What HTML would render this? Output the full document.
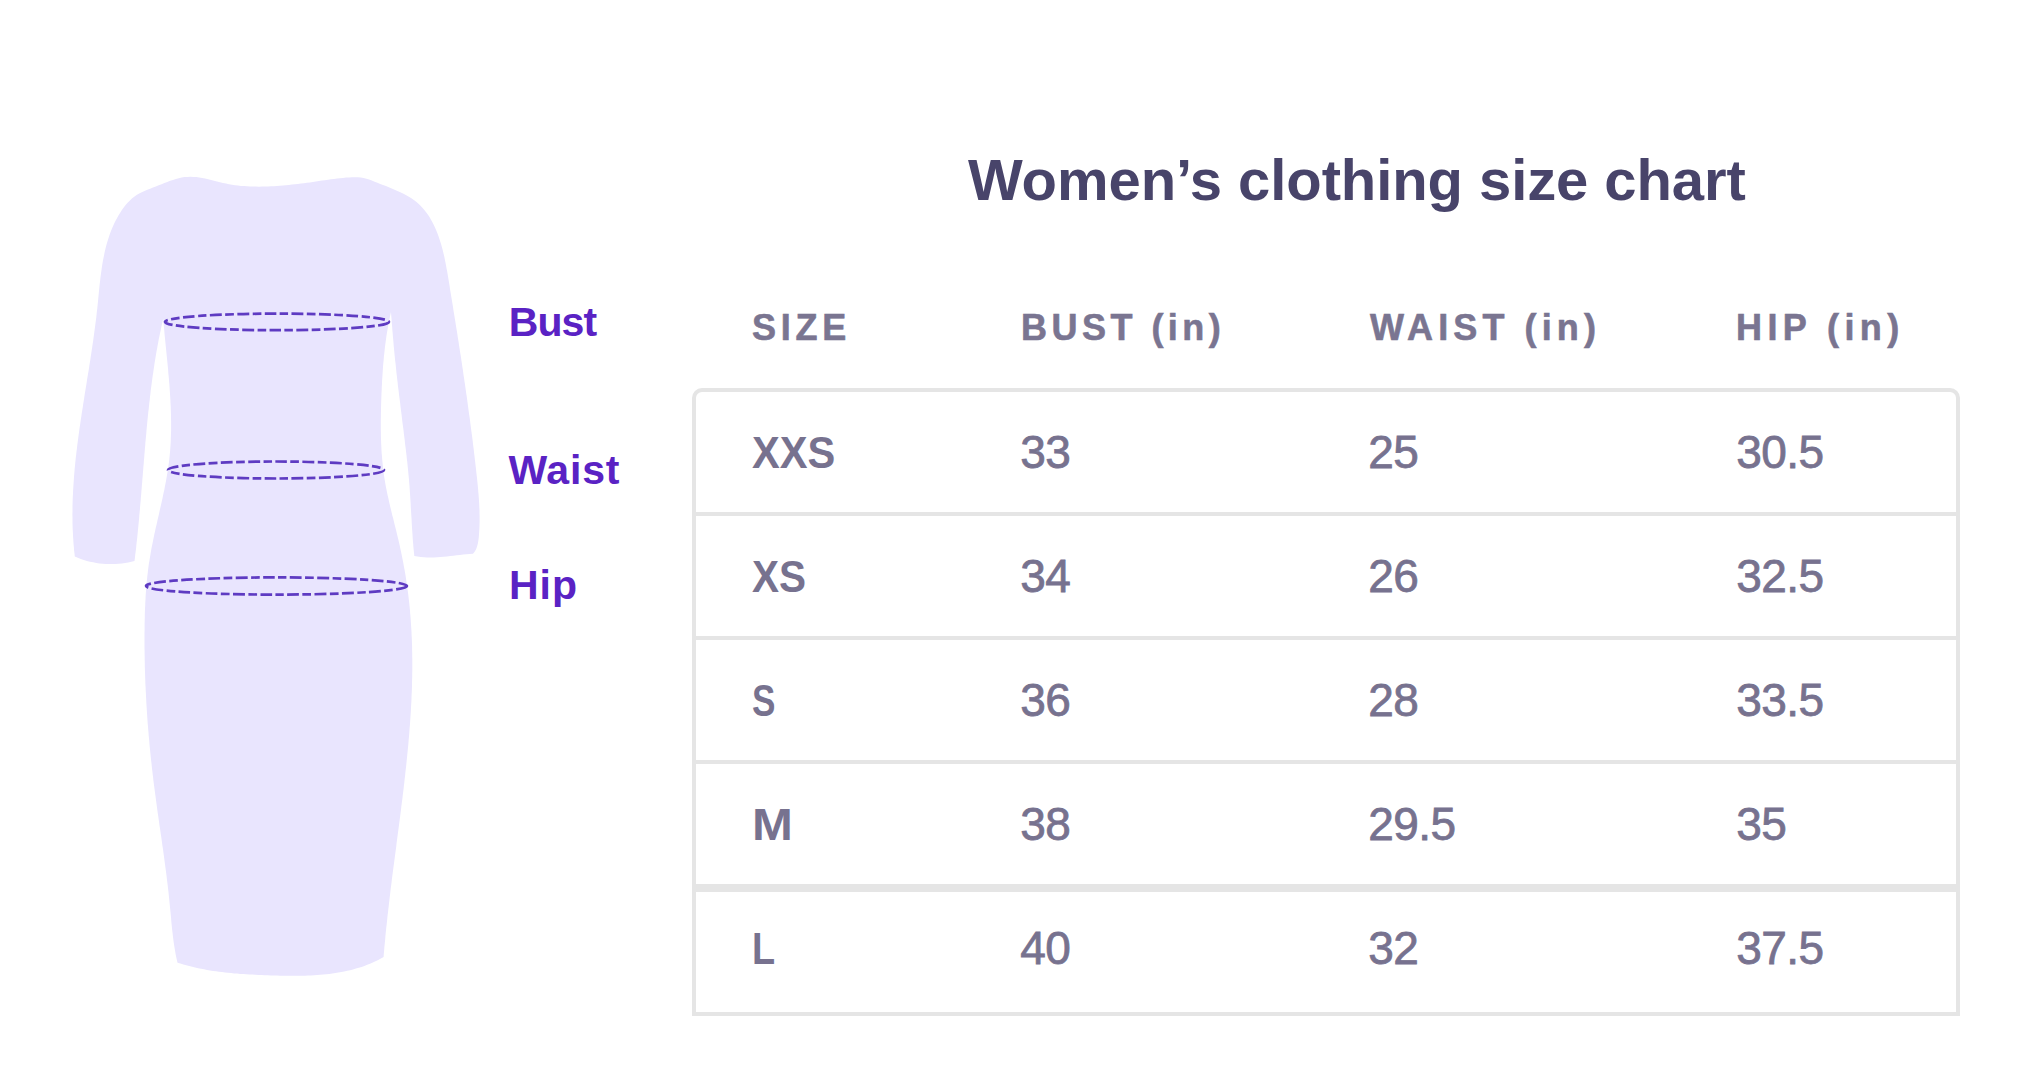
<!DOCTYPE html>
<html lang="en">
<head>
<meta charset="utf-8">
<title>Women’s clothing size chart</title>
<style>
  html,body{margin:0;padding:0;background:#ffffff;}
  body{width:2032px;height:1084px;position:relative;overflow:hidden;font-family:"Liberation Sans",sans-serif;}
  .t{position:absolute;white-space:nowrap;line-height:100px;height:100px;margin:0;transform-origin:0 0;}
  #dress{position:absolute;left:0;top:0;}
  .lbl{font-weight:700;color:#5a22c4;font-size:41px;}
  h1.t{font-weight:700;color:#48446a;font-size:58px;}
  .hd{font-weight:700;color:#7a7591;font-size:36px;-webkit-text-stroke:0.6px #7a7591;}
  .sz{font-weight:700;color:#77728f;font-size:45px;}
  .nm{font-weight:400;color:#77728f;font-size:46px;-webkit-text-stroke:0.8px #77728f;}
  #tbl{position:absolute;left:692px;top:388px;width:1260px;height:620px;border:4px solid #e5e5e5;border-radius:10px 10px 0 0;}
  .rule{position:absolute;left:0;width:1260px;height:4px;background:#e5e5e5;}
</style>
</head>
<body>
<svg id="dress" width="700" height="1084" viewBox="0 0 700 1084">
  <path d="M74.8 556.6 L74.5 553.6 L74.1 550.6 L73.9 547.5 L73.6 544.5 L73.4 541.5 L73.2 538.5 L73.0 535.5 L72.9 532.5 L72.7 529.4 L72.6 526.4 L72.5 523.4 L72.5 520.4 L72.5 517.4 L72.4 514.4 L72.5 511.4 L72.5 508.4 L72.5 505.4 L72.6 502.4 L72.7 499.4 L72.8 496.4 L73.0 493.4 L73.1 490.4 L73.3 487.5 L73.5 484.5 L73.7 481.5 L73.9 478.5 L74.1 475.5 L74.4 472.5 L74.6 469.5 L74.9 466.5 L75.2 463.6 L75.5 460.6 L75.8 457.6 L76.2 454.6 L76.5 451.6 L76.9 448.7 L77.2 445.7 L77.6 442.7 L78.0 439.7 L78.4 436.7 L78.8 433.8 L79.2 430.8 L79.6 427.8 L80.1 424.8 L80.5 421.8 L80.9 418.9 L81.4 415.9 L81.8 412.9 L82.3 409.9 L82.8 406.9 L83.2 404.0 L83.7 401.0 L84.2 398.0 L84.6 395.0 L85.1 392.0 L85.6 389.1 L86.1 386.1 L86.6 383.1 L87.0 380.1 L87.5 377.1 L88.0 374.1 L88.5 371.2 L89.0 368.2 L89.4 365.2 L89.9 362.2 L90.4 359.2 L90.8 356.2 L91.3 353.2 L91.7 350.2 L92.2 347.2 L92.6 344.2 L93.1 341.2 L93.5 338.2 L93.9 335.2 L94.3 332.2 L94.7 329.2 L95.1 326.2 L95.5 323.2 L95.9 320.2 L96.3 317.2 L96.6 314.2 L96.9 311.2 L97.3 308.2 L97.6 305.2 L97.9 302.2 L98.2 299.1 L98.5 296.1 L98.8 293.1 L99.1 290.1 L99.4 287.1 L99.7 284.1 L100.1 281.1 L100.4 278.1 L100.8 275.1 L101.2 272.1 L101.6 269.2 L102.0 266.2 L102.5 263.2 L103.0 260.3 L103.6 257.4 L104.2 254.4 L104.8 251.5 L105.5 248.6 L106.2 245.8 L107.0 242.9 L107.9 240.0 L108.8 237.2 L109.7 234.4 L110.8 231.6 L111.9 228.8 L113.1 226.1 L114.3 223.3 L115.7 220.6 L117.1 217.9 L118.6 215.3 L120.2 212.7 L121.9 210.1 L123.7 207.6 L125.6 205.1 L127.6 202.8 L129.7 200.7 L131.9 198.6 L134.2 196.7 L136.6 195.0 L139.2 193.5 L141.8 192.2 L144.5 191.0 L147.3 189.8 L150.1 188.7 L153.0 187.6 L155.8 186.5 L158.7 185.3 L161.6 184.2 L164.4 183.0 L167.3 181.9 L170.2 180.8 L173.0 179.9 L175.9 179.0 L178.8 178.2 L181.7 177.6 L184.6 177.1 L187.5 176.9 L190.4 176.8 L193.3 176.9 L196.3 177.1 L199.2 177.5 L202.2 178.0 L205.1 178.6 L208.1 179.3 L211.1 180.0 L214.0 180.7 L217.0 181.5 L220.0 182.2 L223.0 182.9 L226.0 183.6 L229.0 184.2 L232.0 184.7 L235.0 185.2 L238.0 185.5 L241.0 185.9 L244.0 186.1 L247.0 186.3 L250.0 186.5 L253.0 186.6 L256.0 186.6 L259.0 186.7 L262.0 186.6 L265.0 186.6 L268.0 186.5 L271.0 186.3 L274.0 186.2 L277.0 186.0 L279.9 185.8 L282.9 185.5 L285.9 185.2 L288.9 184.9 L291.9 184.6 L294.9 184.3 L297.9 183.9 L300.9 183.6 L303.9 183.2 L306.9 182.8 L309.9 182.4 L312.9 181.9 L315.9 181.5 L318.9 181.1 L321.9 180.6 L324.9 180.2 L328.0 179.8 L331.0 179.3 L334.0 178.9 L337.0 178.6 L340.0 178.2 L343.0 177.9 L346.0 177.6 L349.0 177.4 L352.0 177.3 L355.0 177.2 L357.9 177.3 L360.8 177.5 L363.6 178.0 L366.4 178.7 L369.1 179.6 L371.8 180.6 L374.6 181.7 L377.4 182.8 L380.2 183.9 L383.0 185.0 L385.9 186.1 L388.8 187.3 L391.7 188.4 L394.6 189.7 L397.4 190.9 L400.3 192.2 L403.0 193.6 L405.8 195.0 L408.4 196.5 L411.0 198.1 L413.5 199.8 L415.9 201.6 L418.2 203.5 L420.3 205.6 L422.4 207.7 L424.3 209.9 L426.1 212.2 L427.8 214.6 L429.5 217.1 L431.0 219.7 L432.4 222.3 L433.8 225.0 L435.1 227.7 L436.3 230.4 L437.4 233.2 L438.4 236.1 L439.4 238.9 L440.3 241.8 L441.2 244.6 L442.0 247.5 L442.8 250.5 L443.5 253.4 L444.2 256.3 L444.8 259.3 L445.4 262.2 L446.0 265.2 L446.5 268.2 L447.1 271.1 L447.6 274.1 L448.1 277.1 L448.6 280.1 L449.1 283.1 L449.6 286.1 L450.0 289.1 L450.5 292.0 L451.0 295.0 L451.5 298.0 L452.0 301.0 L452.5 304.0 L453.0 306.9 L453.4 309.9 L453.9 312.9 L454.4 315.9 L454.9 318.9 L455.4 321.9 L455.8 324.8 L456.3 327.8 L456.8 330.8 L457.3 333.8 L457.7 336.7 L458.2 339.7 L458.7 342.7 L459.1 345.7 L459.6 348.7 L460.0 351.6 L460.5 354.6 L461.0 357.6 L461.4 360.6 L461.9 363.5 L462.3 366.5 L462.8 369.5 L463.2 372.5 L463.6 375.5 L464.1 378.4 L464.5 381.4 L465.0 384.4 L465.4 387.4 L465.8 390.3 L466.2 393.3 L466.7 396.3 L467.1 399.3 L467.5 402.3 L467.9 405.2 L468.3 408.2 L468.7 411.2 L469.1 414.2 L469.6 417.2 L470.0 420.2 L470.3 423.1 L470.7 426.1 L471.1 429.1 L471.5 432.1 L471.9 435.1 L472.3 438.1 L472.7 441.1 L473.0 444.0 L473.4 447.0 L473.8 450.0 L474.1 453.0 L474.5 456.0 L474.8 459.0 L475.2 462.0 L475.5 465.0 L475.9 468.0 L476.2 471.0 L476.5 474.0 L476.9 477.0 L477.2 480.0 L477.5 483.0 L477.8 486.0 L478.1 489.0 L478.3 492.0 L478.6 495.0 L478.8 498.0 L479.0 501.0 L479.2 504.0 L479.3 507.0 L479.5 510.0 L479.5 513.1 L479.6 516.1 L479.6 519.1 L479.6 522.1 L479.5 525.2 L479.4 528.2 L479.2 531.2 L479.0 534.2 L478.8 537.3 L478.4 540.3 L477.9 543.2 L477.2 546.1 L476.2 548.9 L474.8 551.4 L473.0 553.8 L469.7 554.0 L466.5 554.3 L463.2 554.6 L460.0 555.0 L456.7 555.3 L453.4 555.7 L450.2 556.1 L446.9 556.5 L443.6 556.8 L440.4 557.1 L437.1 557.3 L433.8 557.5 L430.6 557.6 L427.3 557.5 L424.0 557.3 L420.8 557.1 L417.5 556.6 L414.3 556.0 L414.0 553.0 L413.7 550.0 L413.4 547.0 L413.2 543.9 L412.9 540.9 L412.7 537.9 L412.5 534.8 L412.3 531.8 L412.1 528.7 L411.9 525.7 L411.7 522.6 L411.6 519.6 L411.4 516.5 L411.2 513.5 L411.0 510.4 L410.8 507.3 L410.7 504.3 L410.5 501.2 L410.3 498.1 L410.1 495.1 L409.9 492.0 L409.7 489.0 L409.5 485.9 L409.2 482.8 L409.0 479.8 L408.7 476.7 L408.4 473.7 L408.1 470.6 L407.8 467.5 L407.5 464.5 L407.2 461.4 L406.8 458.4 L406.5 455.3 L406.1 452.3 L405.8 449.3 L405.4 446.2 L405.0 443.2 L404.7 440.1 L404.3 437.1 L403.9 434.0 L403.6 431.0 L403.2 427.9 L402.8 424.9 L402.4 421.9 L402.0 418.8 L401.7 415.8 L401.3 412.7 L400.9 409.7 L400.5 406.6 L400.2 403.6 L399.8 400.6 L399.4 397.5 L399.0 394.5 L398.7 391.4 L398.3 388.4 L397.9 385.4 L397.6 382.3 L397.2 379.3 L396.9 376.2 L396.5 373.2 L396.2 370.1 L395.9 367.1 L395.6 364.0 L395.2 361.0 L394.9 357.9 L394.6 354.9 L394.3 351.8 L394.0 348.8 L393.7 345.7 L393.5 342.7 L393.2 339.6 L392.9 336.6 L392.7 333.5 L392.4 330.5 L392.2 327.4 L391.9 324.3 L391.7 321.3 L391.5 318.2 L391.2 315.2 L391.0 312.1 L390.3 315.0 L389.7 317.9 L389.1 320.8 L388.6 323.8 L388.0 326.7 L387.5 329.7 L387.0 332.6 L386.5 335.6 L386.1 338.6 L385.7 341.5 L385.3 344.5 L384.9 347.5 L384.6 350.5 L384.3 353.5 L383.9 356.5 L383.7 359.6 L383.4 362.6 L383.1 365.6 L382.9 368.6 L382.7 371.7 L382.5 374.7 L382.3 377.7 L382.1 380.8 L382.0 383.8 L381.8 386.8 L381.7 389.9 L381.5 392.9 L381.4 396.0 L381.3 399.0 L381.2 402.1 L381.1 405.1 L381.0 408.2 L381.0 411.2 L380.9 414.2 L380.9 417.3 L380.8 420.3 L380.8 423.4 L380.8 426.4 L380.8 429.4 L380.9 432.5 L380.9 435.5 L381.0 438.5 L381.1 441.5 L381.2 444.6 L381.4 447.6 L381.5 450.6 L381.7 453.6 L382.0 456.6 L382.2 459.6 L382.5 462.6 L382.8 465.6 L383.1 468.6 L383.5 471.5 L383.9 474.5 L384.3 477.5 L384.8 480.4 L385.3 483.4 L385.8 486.3 L386.4 489.3 L387.0 492.2 L387.6 495.2 L388.3 498.1 L388.9 501.0 L389.6 504.0 L390.3 506.9 L391.0 509.8 L391.7 512.7 L392.4 515.7 L393.2 518.6 L393.9 521.5 L394.6 524.4 L395.4 527.4 L396.1 530.3 L396.8 533.3 L397.5 536.2 L398.2 539.1 L398.9 542.1 L399.6 545.0 L400.2 548.0 L400.9 551.0 L401.5 553.9 L402.1 556.9 L402.7 559.9 L403.3 562.9 L403.8 565.9 L404.4 568.9 L404.9 571.8 L405.4 574.8 L405.9 577.8 L406.3 580.8 L406.8 583.8 L407.2 586.8 L407.6 589.8 L408.0 592.8 L408.4 595.8 L408.7 598.8 L409.1 601.8 L409.4 604.8 L409.7 607.8 L410.0 610.8 L410.2 613.8 L410.5 616.8 L410.7 619.8 L410.9 622.8 L411.1 625.8 L411.3 628.8 L411.5 631.8 L411.6 634.9 L411.8 637.9 L411.9 640.9 L412.0 643.9 L412.1 646.9 L412.1 649.9 L412.2 652.9 L412.2 655.9 L412.3 658.9 L412.3 661.9 L412.3 665.0 L412.3 668.0 L412.3 671.0 L412.2 674.0 L412.2 677.0 L412.1 680.0 L412.0 683.0 L412.0 686.1 L411.9 689.1 L411.8 692.1 L411.6 695.1 L411.5 698.1 L411.4 701.1 L411.2 704.2 L411.0 707.2 L410.9 710.2 L410.7 713.2 L410.5 716.2 L410.3 719.2 L410.1 722.3 L409.9 725.3 L409.6 728.3 L409.4 731.3 L409.2 734.3 L408.9 737.4 L408.6 740.4 L408.4 743.4 L408.1 746.4 L407.8 749.4 L407.5 752.5 L407.2 755.5 L406.9 758.5 L406.6 761.5 L406.3 764.5 L406.0 767.6 L405.6 770.6 L405.3 773.6 L405.0 776.6 L404.6 779.6 L404.3 782.7 L403.9 785.7 L403.6 788.7 L403.2 791.7 L402.8 794.7 L402.5 797.7 L402.1 800.8 L401.7 803.8 L401.3 806.8 L401.0 809.8 L400.6 812.8 L400.2 815.9 L399.8 818.9 L399.4 821.9 L399.0 824.9 L398.6 827.9 L398.2 830.9 L397.8 833.9 L397.4 837.0 L397.0 840.0 L396.6 843.0 L396.3 846.0 L395.9 849.0 L395.5 852.0 L395.1 855.0 L394.7 858.1 L394.3 861.1 L393.9 864.1 L393.5 867.1 L393.1 870.1 L392.7 873.1 L392.3 876.1 L391.9 879.1 L391.6 882.1 L391.2 885.1 L390.8 888.1 L390.4 891.2 L390.1 894.2 L389.7 897.2 L389.4 900.2 L389.0 903.2 L388.7 906.2 L388.3 909.2 L388.0 912.2 L387.6 915.2 L387.3 918.2 L387.0 921.2 L386.7 924.2 L386.3 927.2 L386.0 930.2 L385.7 933.2 L385.4 936.2 L385.2 939.2 L384.9 942.1 L384.6 945.1 L384.3 948.1 L384.1 951.1 L383.8 954.1 L383.6 957.1 L380.9 958.6 L378.2 960.0 L375.5 961.3 L372.8 962.5 L370.0 963.7 L367.2 964.8 L364.4 965.9 L361.6 966.9 L358.8 967.8 L355.9 968.6 L353.0 969.4 L350.1 970.2 L347.2 970.8 L344.2 971.5 L341.3 972.1 L338.3 972.6 L335.3 973.1 L332.3 973.5 L329.3 973.9 L326.3 974.2 L323.2 974.6 L320.2 974.8 L317.1 975.1 L314.1 975.3 L311.0 975.4 L307.9 975.6 L304.9 975.7 L301.8 975.7 L298.7 975.8 L295.6 975.8 L292.5 975.8 L289.4 975.8 L286.3 975.8 L283.2 975.7 L280.1 975.7 L277.0 975.6 L273.9 975.5 L270.8 975.4 L267.7 975.3 L264.7 975.2 L261.6 975.1 L258.5 974.9 L255.4 974.8 L252.4 974.6 L249.3 974.5 L246.3 974.3 L243.2 974.1 L240.2 973.9 L237.1 973.6 L234.1 973.4 L231.1 973.1 L228.0 972.8 L225.0 972.5 L222.0 972.1 L219.0 971.7 L216.0 971.3 L213.0 970.9 L210.0 970.4 L207.0 969.9 L204.1 969.3 L201.1 968.8 L198.1 968.2 L195.1 967.5 L192.2 966.8 L189.2 966.1 L186.3 965.3 L183.4 964.5 L180.4 963.6 L177.5 962.7 L176.8 959.8 L176.2 956.9 L175.6 954.0 L175.1 951.0 L174.6 948.1 L174.1 945.1 L173.7 942.2 L173.3 939.2 L172.9 936.2 L172.6 933.2 L172.2 930.2 L171.9 927.2 L171.6 924.2 L171.3 921.2 L171.1 918.2 L170.8 915.2 L170.5 912.2 L170.2 909.2 L169.9 906.2 L169.6 903.2 L169.3 900.2 L169.0 897.2 L168.7 894.2 L168.4 891.2 L168.0 888.2 L167.7 885.2 L167.3 882.2 L166.9 879.2 L166.6 876.2 L166.2 873.2 L165.8 870.2 L165.4 867.2 L165.0 864.2 L164.6 861.2 L164.2 858.2 L163.8 855.2 L163.4 852.3 L163.0 849.3 L162.5 846.3 L162.1 843.3 L161.7 840.3 L161.3 837.3 L160.8 834.3 L160.4 831.3 L160.0 828.4 L159.5 825.4 L159.1 822.4 L158.7 819.4 L158.3 816.4 L157.8 813.4 L157.4 810.4 L157.0 807.4 L156.6 804.4 L156.2 801.5 L155.8 798.5 L155.4 795.5 L155.0 792.5 L154.6 789.5 L154.2 786.5 L153.8 783.5 L153.4 780.5 L153.1 777.5 L152.7 774.5 L152.4 771.5 L152.0 768.5 L151.7 765.5 L151.4 762.5 L151.0 759.5 L150.7 756.5 L150.4 753.5 L150.1 750.5 L149.8 747.5 L149.5 744.5 L149.3 741.5 L149.0 738.5 L148.7 735.5 L148.5 732.4 L148.2 729.4 L148.0 726.4 L147.7 723.4 L147.5 720.4 L147.3 717.4 L147.1 714.4 L146.9 711.4 L146.7 708.3 L146.5 705.3 L146.3 702.3 L146.2 699.3 L146.0 696.3 L145.9 693.3 L145.7 690.2 L145.6 687.2 L145.4 684.2 L145.3 681.2 L145.2 678.2 L145.1 675.1 L145.0 672.1 L144.9 669.1 L144.8 666.1 L144.8 663.1 L144.7 660.0 L144.7 657.0 L144.6 654.0 L144.6 651.0 L144.5 648.0 L144.5 644.9 L144.5 641.9 L144.5 638.9 L144.5 635.9 L144.5 632.8 L144.6 629.8 L144.6 626.8 L144.6 623.8 L144.7 620.7 L144.8 617.7 L144.8 614.7 L144.9 611.7 L145.0 608.7 L145.2 605.6 L145.3 602.6 L145.5 599.6 L145.6 596.6 L145.8 593.6 L146.0 590.6 L146.3 587.6 L146.5 584.6 L146.8 581.6 L147.1 578.6 L147.4 575.6 L147.8 572.6 L148.1 569.6 L148.5 566.6 L148.9 563.6 L149.4 560.7 L149.9 557.7 L150.4 554.7 L150.9 551.8 L151.4 548.8 L152.0 545.8 L152.6 542.9 L153.2 539.9 L153.8 537.0 L154.4 534.0 L155.1 531.1 L155.7 528.1 L156.4 525.2 L157.1 522.3 L157.7 519.3 L158.4 516.4 L159.1 513.4 L159.7 510.5 L160.4 507.6 L161.1 504.6 L161.7 501.7 L162.4 498.7 L163.0 495.8 L163.6 492.8 L164.3 489.9 L164.8 486.9 L165.4 484.0 L166.0 481.0 L166.5 478.1 L167.0 475.1 L167.5 472.2 L168.0 469.2 L168.4 466.2 L168.8 463.2 L169.2 460.3 L169.5 457.3 L169.8 454.3 L170.1 451.3 L170.3 448.3 L170.5 445.3 L170.7 442.3 L170.8 439.3 L170.9 436.3 L171.0 433.2 L171.1 430.2 L171.1 427.2 L171.1 424.2 L171.1 421.2 L171.0 418.1 L171.0 415.1 L170.9 412.1 L170.8 409.0 L170.7 406.0 L170.5 403.0 L170.4 399.9 L170.2 396.9 L170.0 393.9 L169.8 390.8 L169.6 387.8 L169.4 384.8 L169.1 381.8 L168.9 378.7 L168.6 375.7 L168.3 372.7 L168.1 369.6 L167.8 366.6 L167.5 363.6 L167.2 360.6 L166.9 357.6 L166.6 354.6 L166.3 351.6 L166.0 348.6 L165.7 345.6 L165.4 342.6 L165.1 339.6 L164.8 336.6 L164.5 333.6 L164.3 330.6 L164.0 327.7 L163.7 324.7 L163.5 321.8 L163.2 318.8 L162.5 321.8 L161.8 324.7 L161.2 327.7 L160.6 330.7 L159.9 333.7 L159.3 336.7 L158.7 339.6 L158.2 342.6 L157.6 345.6 L157.1 348.6 L156.5 351.6 L156.0 354.6 L155.5 357.6 L155.0 360.6 L154.5 363.6 L154.1 366.6 L153.6 369.7 L153.2 372.7 L152.7 375.7 L152.3 378.7 L151.9 381.7 L151.5 384.7 L151.1 387.8 L150.7 390.8 L150.4 393.8 L150.0 396.9 L149.7 399.9 L149.3 402.9 L149.0 405.9 L148.7 409.0 L148.3 412.0 L148.0 415.1 L147.7 418.1 L147.4 421.1 L147.1 424.2 L146.8 427.2 L146.5 430.3 L146.3 433.3 L146.0 436.3 L145.7 439.4 L145.4 442.4 L145.2 445.5 L144.9 448.5 L144.7 451.6 L144.4 454.6 L144.2 457.7 L143.9 460.7 L143.7 463.8 L143.4 466.8 L143.2 469.8 L142.9 472.9 L142.7 475.9 L142.4 479.0 L142.2 482.0 L141.9 485.1 L141.7 488.1 L141.4 491.2 L141.2 494.2 L140.9 497.3 L140.7 500.3 L140.4 503.4 L140.1 506.4 L139.9 509.4 L139.6 512.5 L139.3 515.5 L139.1 518.6 L138.8 521.6 L138.5 524.6 L138.2 527.7 L137.9 530.7 L137.6 533.8 L137.3 536.8 L137.0 539.8 L136.6 542.8 L136.3 545.9 L136.0 548.9 L135.6 551.9 L135.2 555.0 L134.9 558.0 L134.5 561.0 L131.4 561.8 L128.2 562.5 L125.1 563.0 L121.9 563.5 L118.7 563.8 L115.5 564.0 L112.3 564.1 L109.1 564.1 L105.9 564.0 L102.7 563.7 L99.5 563.4 L96.3 562.9 L93.2 562.3 L90.0 561.7 L86.9 560.9 L83.8 560.0 L80.8 558.9 L77.8 557.8 L74.8 556.6 Z" fill="#e9e5fe"/>
  <g fill="none" stroke="#5e3bc2" stroke-width="2.7" stroke-dasharray="11.8 3.4 8.6 3.4">
    <ellipse cx="277" cy="321.9" rx="112" ry="8.3"/>
    <ellipse cx="276" cy="470" rx="108" ry="8.5"/>
    <ellipse cx="276.5" cy="586" rx="130.5" ry="8.6"/>
  </g>
</svg>
<div class="t lbl" id="l-bust" style="left:508.7px;top:271.5px;letter-spacing:-0.9px">Bust</div>
<div class="t lbl" id="l-waist" style="left:508.4px;top:419.5px;letter-spacing:0.8px">Waist</div>
<div class="t lbl" id="l-hip" style="left:508.9px;top:534.8px;letter-spacing:1.0px">Hip</div>
<h1 class="t " id="title" style="left:968px;top:129.8px;letter-spacing:-0.08px">Women’s clothing size chart</h1>
<div class="t hd" id="h-size" style="left:752px;top:277.9px;letter-spacing:4.74px">SIZE</div>
<div class="t hd" id="h-bust" style="left:1021px;top:277.9px;letter-spacing:4.48px">BUST (in)</div>
<div class="t hd" id="h-waist" style="left:1370px;top:277.9px;letter-spacing:5.1px">WAIST (in)</div>
<div class="t hd" id="h-hip" style="left:1736px;top:277.9px;letter-spacing:5.41px">HIP (in)</div>
<div id="tbl">
  <div class="rule" style="top:120px"></div>
  <div class="rule" style="top:244px"></div>
  <div class="rule" style="top:368px"></div>
  <div class="rule" style="top:492px;height:8px"></div>
</div>
<div class="t sz" id="r1c1" style="left:752px;top:403px;transform:scaleX(0.925)">XXS</div>
<div class="t nm" id="r1c2" style="left:1020.3px;top:402px;letter-spacing:-0.6px">33</div>
<div class="t nm" id="r1c3" style="left:1368.3px;top:402px;letter-spacing:-0.6px">25</div>
<div class="t nm" id="r1c4" style="left:1736.3px;top:402px;letter-spacing:-0.6px">30.5</div>
<div class="t sz" id="r2c1" style="left:752px;top:527px;transform:scaleX(0.9)">XS</div>
<div class="t nm" id="r2c2" style="left:1020.3px;top:526px;letter-spacing:-0.6px">34</div>
<div class="t nm" id="r2c3" style="left:1368.3px;top:526px;letter-spacing:-0.6px">26</div>
<div class="t nm" id="r2c4" style="left:1736.3px;top:526px;letter-spacing:-0.6px">32.5</div>
<div class="t sz" id="r3c1" style="left:752px;top:651px;transform:scaleX(0.78)">S</div>
<div class="t nm" id="r3c2" style="left:1020.3px;top:650px;letter-spacing:-0.6px">36</div>
<div class="t nm" id="r3c3" style="left:1368.3px;top:650px;letter-spacing:-0.6px">28</div>
<div class="t nm" id="r3c4" style="left:1736.3px;top:650px;letter-spacing:-0.6px">33.5</div>
<div class="t sz" id="r4c1" style="left:752px;top:775px;transform:scaleX(1.09)">M</div>
<div class="t nm" id="r4c2" style="left:1020.3px;top:774px;letter-spacing:-0.6px">38</div>
<div class="t nm" id="r4c3" style="left:1368.3px;top:774px;letter-spacing:-0.6px">29.5</div>
<div class="t nm" id="r4c4" style="left:1736.3px;top:774px;letter-spacing:-0.6px">35</div>
<div class="t sz" id="r5c1" style="left:752px;top:899px;transform:scaleX(0.84)">L</div>
<div class="t nm" id="r5c2" style="left:1020.3px;top:898px;letter-spacing:-0.6px">40</div>
<div class="t nm" id="r5c3" style="left:1368.3px;top:898px;letter-spacing:-0.6px">32</div>
<div class="t nm" id="r5c4" style="left:1736.3px;top:898px;letter-spacing:-0.6px">37.5</div>
</body>
</html>
